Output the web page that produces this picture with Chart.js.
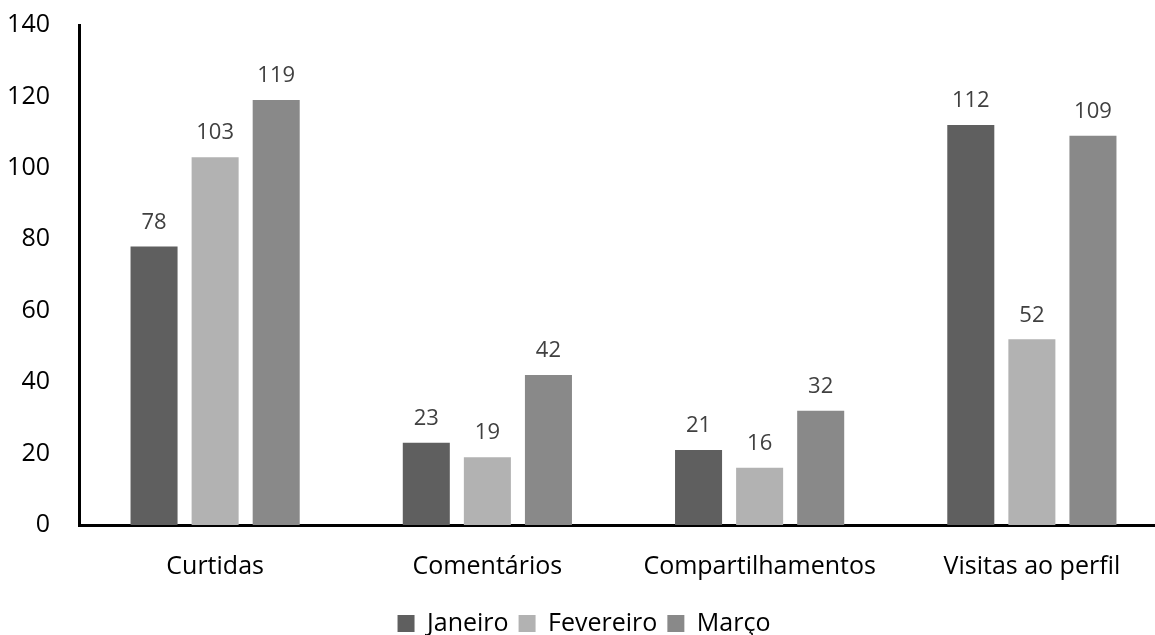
<!DOCTYPE html>
<html>
<head>
<meta charset="utf-8">
<script src="https://cdn.jsdelivr.net/npm/chart.js@4/dist/chart.umd.min.js"></script>
<style>
  html, body { margin: 0; padding: 0; background: #ffffff; overflow: hidden; }
  #wrap { width: 1168px; height: 635px; position: relative; }
</style>
</head>
<body>
<div id="wrap"><canvas id="chart"></canvas></div>
<script>
const categories = ['Curtidas', 'Comentários', 'Compartilhamentos', 'Visitas ao perfil'];
const janeiro = [78, 23, 21, 112];
const fevereiro = [103, 19, 16, 52];
const marco = [119, 42, 32, 109];
const yTicks = [0, 20, 40, 60, 80, 100, 120, 140];

const FONT = '"Open Sans", Lato, sans-serif';

// Value labels above each bar
const valueLabels = {
  id: 'valueLabels',
  afterDatasetsDraw(chart) {
    const ctx = chart.ctx;
    ctx.save();
    ctx.font = '22px ' + FONT;
    ctx.fillStyle = '#404040';
    ctx.textAlign = 'center';
    ctx.textBaseline = 'middle';
    chart.data.datasets.forEach((ds, i) => {
      chart.getDatasetMeta(i).data.forEach((bar, j) => {
        ctx.fillText(String(ds.data[j]), bar.x, bar.y - 24);
      });
    });
    ctx.restore();
  }
};

new Chart(document.getElementById('chart'), {
  type: 'bar',
  data: {
    labels: categories,
    datasets: [
      { label: 'Janeiro', data: janeiro, backgroundColor: '#5f5f5f' },
      { label: 'Fevereiro', data: fevereiro, backgroundColor: '#b2b2b2' },
      { label: 'Março', data: marco, backgroundColor: '#898989' }
    ]
  },
  options: {
    responsive: true,
    maintainAspectRatio: false,
    animation: false,
    categoryPercentage: 0.673,
    barPercentage: 0.77,
    layout: { padding: { top: 25, right: 0, left: 0, bottom: -11 } },
    plugins: {
      legend: {
        position: 'bottom',
        labels: {
          color: '#000000',
          font: { family: FONT, size: 25 },
          boxWidth: 17,
          boxHeight: 17,
          padding: 10
        }
      },
      tooltip: { enabled: false }
    },
    scales: {
      x: {
        grid: { display: false },
        border: { display: true, color: '#000000', width: 3 },
        ticks: { color: '#000000', font: { family: FONT, size: 25 }, padding: 19 },
        afterFit(scale) {
          scale.height = 76;
          scale.paddingLeft = 0;
          scale.paddingRight = 0;
        }
      },
      y: {
        min: 0,
        max: 140,
        afterBuildTicks(scale) { scale.ticks = yTicks.map(v => ({ value: v })); },
        grid: { display: false },
        border: { display: true, color: '#000000', width: 3 },
        ticks: { color: '#000000', font: { family: FONT, size: 25 }, padding: 21 },
        afterFit(scale) {
          scale.width = 79;
          scale.paddingTop = 0;
          scale.paddingBottom = 0;
        }
      }
    }
  },
  plugins: [valueLabels]
});
</script>
</body>
</html>
